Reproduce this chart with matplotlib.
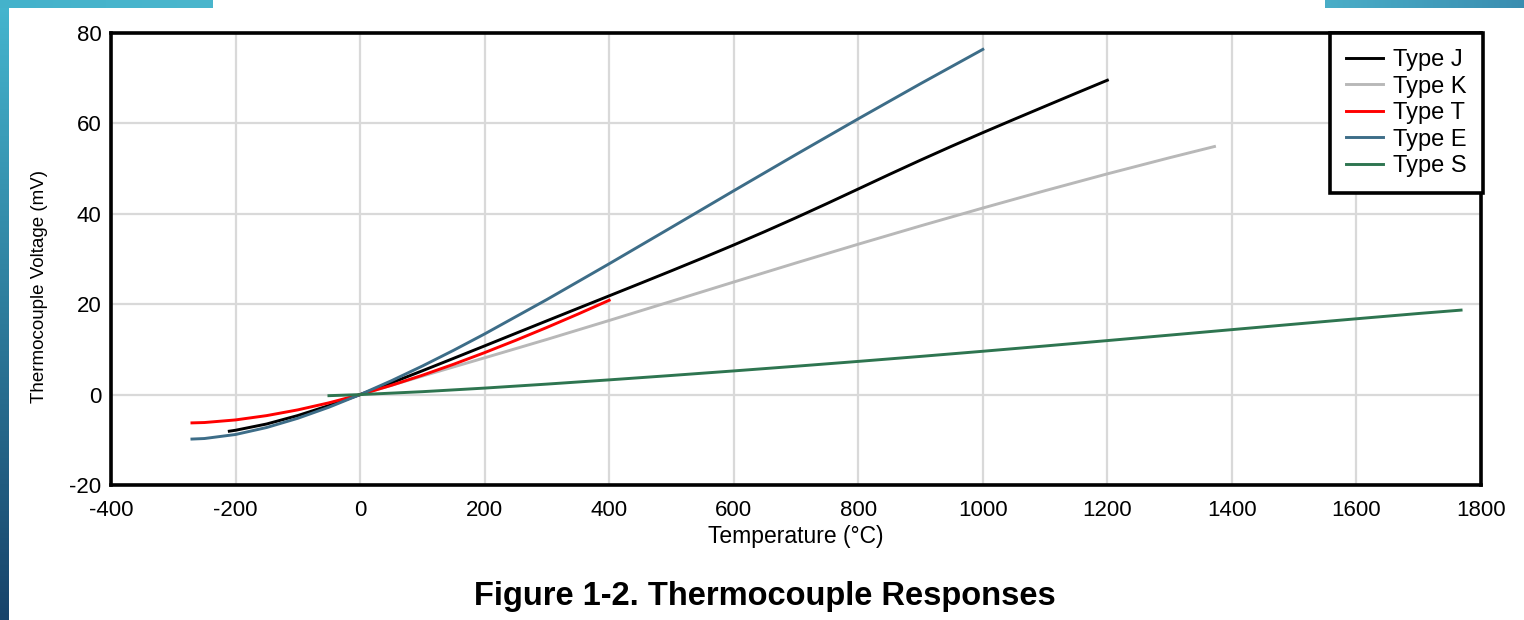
import numpy as np
import matplotlib
matplotlib.use("Agg")
import matplotlib.pyplot as plt
from matplotlib.colors import LinearSegmentedColormap

plt.rcParams['font.family'] = ['Liberation Sans', 'DejaVu Sans']
plt.rcParams['axes.unicode_minus'] = False

# thermocouple EMF (mV) vs temperature (degC)
temp_j = [-210, -200, -150, -100, -50, 0, 50, 100, 150, 200, 250, 300, 350, 400, 450, 500, 550,
          600, 650, 700, 750, 800, 850, 900, 950, 1000, 1050, 1100, 1150, 1200]
mv_j = [-8.095, -7.890, -6.500, -4.633, -2.431, 0, 2.585, 5.269, 8.010, 10.777, 13.555, 16.327,
        19.090, 21.848, 24.610, 27.393, 30.216, 33.102, 36.071, 39.132, 42.281, 45.494, 48.716,
        51.877, 54.956, 57.953, 60.890, 63.792, 66.688, 69.553]

temp_k = [0, 100, 200, 300, 400, 500, 600, 700, 800, 900, 1000, 1100, 1200, 1300, 1372]
mv_k = [0, 4.096, 8.138, 12.209, 16.397, 20.644, 24.905, 29.129, 33.275, 37.326, 41.276, 45.119,
        48.838, 52.410, 54.886]

temp_t = [-270, -250, -200, -150, -100, -50, 0, 50, 100, 150, 200, 250, 300, 350, 400]
mv_t = [-6.258, -6.180, -5.603, -4.648, -3.379, -1.819, 0, 2.036, 4.279, 6.704, 9.288, 12.013,
        14.862, 17.819, 20.872]

temp_e = [-270, -250, -200, -150, -100, -50, 0, 50, 100, 150, 200, 300, 400, 500, 600, 700, 800,
          900, 1000]
mv_e = [-9.835, -9.718, -8.825, -7.279, -5.237, -2.787, 0, 3.048, 6.319, 9.789, 13.421, 21.036,
        28.946, 36.999, 45.093, 53.112, 61.017, 68.787, 76.373]

temp_s = [-50, 0, 100, 200, 300, 400, 500, 600, 700, 800, 900, 1000, 1100, 1200, 1300, 1400,
          1500, 1600, 1700, 1768]
mv_s = [-0.236, 0, 0.646, 1.441, 2.323, 3.259, 4.233, 5.239, 6.275, 7.345, 8.449, 9.587, 10.757,
        11.951, 13.159, 14.373, 15.582, 16.777, 17.947, 18.693]

fig = plt.figure(figsize=(15.24, 6.2), dpi=100)

# blue slide decoration around the screenshot
grad = np.linspace(0, 1, 256).reshape(-1, 1)
side = fig.add_axes([0, 0, 9 / 1524, 1])
side.imshow(grad, aspect='auto', cmap=LinearSegmentedColormap.from_list('s', ['#45b6cf', '#17436a']))
side.axis('off')
top_l = fig.add_axes([0, 1 - 8 / 620, 213 / 1524, 8 / 620])
top_l.imshow(grad.T, aspect='auto', cmap=LinearSegmentedColormap.from_list('t', ['#44b2cb', '#4ab6cd']))
top_l.axis('off')
top_r = fig.add_axes([1325 / 1524, 1 - 8 / 620, 199 / 1524, 8 / 620])
top_r.imshow(grad.T, aspect='auto', cmap=LinearSegmentedColormap.from_list('r', ['#4aaec8', '#3a8db0']))
top_r.axis('off')

ax = fig.add_axes([111 / 1524, 1 - 485 / 620, 1370 / 1524, 452 / 620])
lw = 2.1
ax.plot(temp_k, mv_k, color='#b8b8b8', lw=lw, label='Type K', zorder=3)
ax.plot(temp_j, mv_j, color='#000000', lw=lw, label='Type J', zorder=4)
ax.plot(temp_t, mv_t, color='#ff0000', lw=lw, label='Type T', zorder=5)
ax.plot(temp_e, mv_e, color='#3d6d88', lw=lw, label='Type E', zorder=6)
ax.plot(temp_s, mv_s, color='#2e7550', lw=lw, label='Type S', zorder=7)

ax.set_xlim(-400, 1800)
ax.set_ylim(-20, 80)
ax.set_xticks(np.arange(-400, 1801, 200))
ax.set_yticks(np.arange(-20, 81, 20))
ax.grid(True, color='#d9d9d9', lw=1.6)
ax.set_axisbelow(True)
ax.tick_params(length=0, labelsize=16)
ax.tick_params(axis='x', pad=11)
ax.tick_params(axis='y', pad=7)
for s in ax.spines.values():
    s.set_linewidth(2.6)
    s.set_color('black')

ax.set_xlabel('Temperature (\u00b0C)', fontsize=16.5, labelpad=3)
ax.set_ylabel('Thermocouple Voltage (mV)', fontsize=13.5)
ax.yaxis.set_label_coords(-0.046, 0.44)

h, l = ax.get_legend_handles_labels()
order = [1, 0, 2, 3, 4]
leg = ax.legend([h[i] for i in order], [l[i] for i in order], loc='upper right',
                bbox_to_anchor=(1.0015, 1), borderaxespad=0, fancybox=False, fontsize=17,
                handlelength=1.6, handletextpad=0.42, labelspacing=0.19, borderpad=0.68)
leg.get_frame().set_edgecolor('black')
leg.get_frame().set_linewidth(2.6)
leg.get_frame().set_alpha(1)

fig.text(0.502, 0.038, 'Figure 1-2. Thermocouple Responses', ha='center', va='center',
         fontsize=23.5, fontweight='bold')

fig.savefig('out.png', dpi=100)
